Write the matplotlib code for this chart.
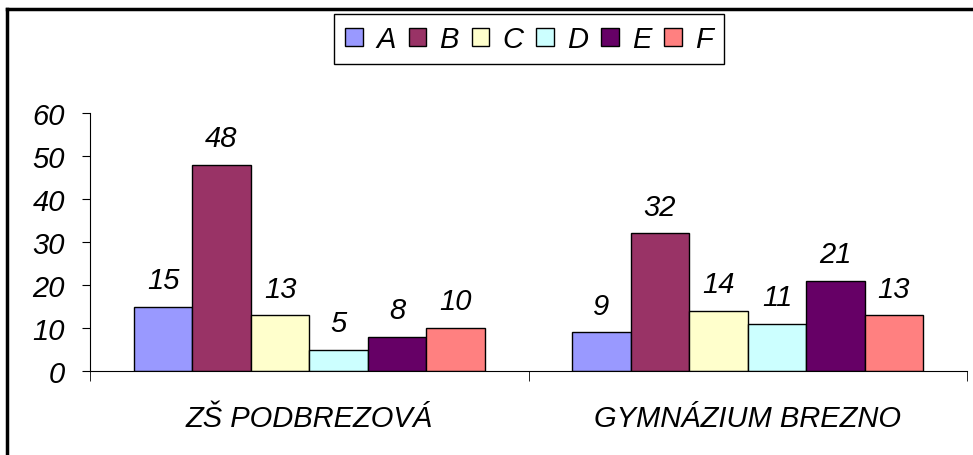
import matplotlib.pyplot as plt
import numpy as np
from matplotlib.lines import Line2D

plt.rcParams['font.family'] = ['Liberation Sans', 'DejaVu Sans']
plt.rcParams['font.style'] = 'italic'

# Data definitions
schools = ['ZŠ PODBREZOVÁ', 'GYMNÁZIUM BREZNO']
series = ['A', 'B', 'C', 'D', 'E', 'F']
vals_A = [15, 9]
vals_B = [48, 32]
vals_C = [13, 14]
vals_D = [5, 11]
vals_E = [8, 21]
vals_F = [10, 13]
colors = ['#9999FF', '#993366', '#FFFFCC', '#CCFFFF', '#660066', '#FF8080']

fig = plt.figure(figsize=(9.73, 4.56), dpi=100)
ax = fig.add_axes([90/973, 84/456, 877/973, 258/456])

x = np.arange(len(schools))
w = 0.8 / len(series)
for i, (name, vals) in enumerate(zip(series, [vals_A, vals_B, vals_C, vals_D, vals_E, vals_F])):
    bars = ax.bar(x + (i - 2.5) * w, vals, w, color=colors[i], edgecolor='black',
                  linewidth=1, label=name)
    ax.bar_label(bars, padding=9, fontsize=21, fontstyle='italic')

ax.set_xlim(-0.5, 1.5)
ax.set_ylim(0, 60)
ax.set_yticks(range(0, 61, 10))
ax.set_xticks(x)
ax.set_xticklabels(schools)
ax.set_xticks([-0.5, 0.5, 1.5], minor=True)
ax.tick_params(axis='x', which='major', length=0, pad=24, labelsize=21)
ax.tick_params(axis='x', which='minor', length=7, direction='out')
ax.tick_params(axis='y', length=6, pad=12, labelsize=21)
for s in ['top', 'right']:
    ax.spines[s].set_visible(False)

leg = fig.legend(loc='upper center', bbox_to_anchor=(529/973, 1 - 15/456), ncol=6,
                 fontsize=21, fancybox=False, edgecolor='black', framealpha=1,
                 handlelength=0.6, handleheight=0.6, handletextpad=0.45,
                 columnspacing=0.45, borderpad=0.38, borderaxespad=0)
leg.get_frame().set_linewidth(1)

# outer frame (left and top edges visible)
fig.add_artist(Line2D([7/973, 7/973], [0, 1 - 10/456], transform=fig.transFigure,
                      color='black', lw=2.5))
fig.add_artist(Line2D([7/973, 1], [1 - 10/456, 1 - 10/456], transform=fig.transFigure,
                      color='black', lw=2.5))

plt.savefig('out.png', dpi=100)
